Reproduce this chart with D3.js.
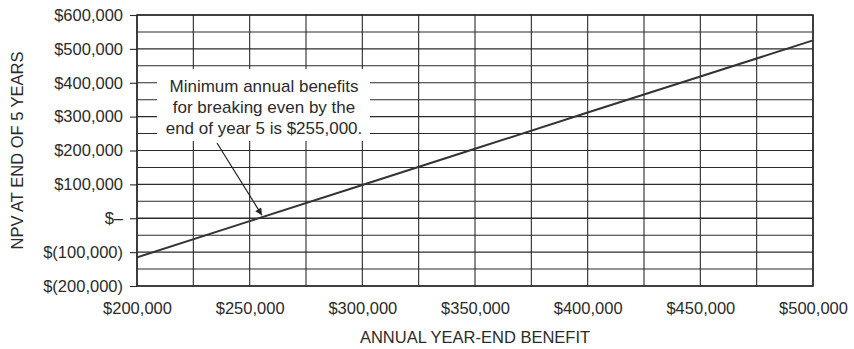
<!DOCTYPE html>
<html>
<head>
<meta charset="utf-8">
<script src="https://cdn.jsdelivr.net/npm/d3@7"></script>
<style>
  body { margin: 0; background: #fff; }
  svg text { font-family: "Liberation Sans", Arial, Helvetica, sans-serif; fill: #2b2b2b; }
</style>
</head>
<body>
<svg id="chart"></svg>
<script>
// annual year-end benefit (x) and NPV at end of year 5 (y)
const benefits = [200000, 250000, 300000, 350000, 400000, 450000, 500000];
const npvValues = [-115500, -8500, 98000, 205000, 312000, 418500, 525000];

const xTicks = [200000, 250000, 300000, 350000, 400000, 450000, 500000];
const yTicks = [-200000, -100000, 0, 100000, 200000, 300000, 400000, 500000, 600000];
const noteLines = ["Minimum annual benefits", "for breaking even by the", "end of year 5 is $255,000."];
const breakEven = 255000;

const width = 854, height = 349;
const margin = {top: 15, right: 41, bottom: 63, left: 137};

const svg = d3.select("#chart")
  .attr("width", width)
  .attr("height", height);

const x = d3.scaleLinear().domain([200000, 500000]).range([margin.left, width - margin.right]);
const y = d3.scaleLinear().domain([-200000, 600000]).range([height - margin.bottom, margin.top]);

const lineColor = "#2b2b2b";

// grid: horizontal every 50k, vertical every 25k
const hGrid = d3.range(-200000, 600001, 50000);
const vGrid = d3.range(200000, 500001, 25000);

svg.append("g")
  .selectAll("line")
  .data(hGrid)
  .join("line")
    .attr("x1", x.range()[0])
    .attr("x2", x.range()[1])
    .attr("y1", d => y(d))
    .attr("y2", d => y(d))
    .attr("stroke", lineColor)
    .attr("stroke-width", d => d === 0 ? 1.6 : 1.1);

svg.append("g")
  .selectAll("line")
  .data(vGrid)
  .join("line")
    .attr("x1", d => x(d))
    .attr("x2", d => x(d))
    .attr("y1", y.range()[0])
    .attr("y2", y.range()[1])
    .attr("stroke", lineColor)
    .attr("stroke-width", 1.1);

// y axis
const fmtY = v => {
  if (v === 0) return "$\u2013";
  const s = d3.format(",")(Math.abs(v));
  return v < 0 ? "$(" + s + ")" : "$" + s;
};

const yAxis = d3.axisLeft(y)
  .tickValues(yTicks)
  .tickSize(7)
  .tickPadding(7)
  .tickFormat(fmtY);

const yAxisG = svg.append("g")
  .attr("transform", `translate(${margin.left},0)`)
  .call(yAxis);
yAxisG.select(".domain").remove();
yAxisG.selectAll(".tick line").attr("stroke", lineColor).attr("stroke-width", 1.1);
yAxisG.selectAll(".tick text")
  .style("font-size", "16.5px")
  .attr("font-family", null);

// x axis (labels only)
const xAxis = d3.axisBottom(x)
  .tickValues(xTicks)
  .tickSize(0)
  .tickPadding(16)
  .tickFormat(d => "$" + d3.format(",")(d));

const xAxisG = svg.append("g")
  .attr("transform", `translate(0,${y.range()[0]})`)
  .call(xAxis);
xAxisG.select(".domain").remove();
xAxisG.selectAll(".tick text")
  .style("font-size", "16.5px")
  .attr("font-family", null);

// plot border
svg.append("rect")
  .attr("x", x.range()[0])
  .attr("y", y.range()[1])
  .attr("width", x.range()[1] - x.range()[0])
  .attr("height", y.range()[0] - y.range()[1])
  .attr("fill", "none")
  .attr("stroke", lineColor)
  .attr("stroke-width", 1.6);

// NPV line
const line = d3.line()
  .x((d, i) => x(benefits[i]))
  .y(d => y(d));

svg.append("path")
  .datum(npvValues)
  .attr("d", line)
  .attr("fill", "none")
  .attr("stroke", "#333")
  .attr("stroke-width", 2);

// annotation box
const boxX = 157, boxY = 69, boxW = 213, boxH = 72;
svg.append("rect")
  .attr("x", boxX)
  .attr("y", boxY)
  .attr("width", boxW)
  .attr("height", boxH)
  .attr("fill", "#fff");

svg.append("text")
  .attr("text-anchor", "middle")
  .style("font-size", "17px")
  .selectAll("tspan")
  .data(noteLines)
  .join("tspan")
    .attr("x", boxX + boxW / 2 + 0.5)
    .attr("y", (d, i) => 92 + i * 21)
    .text(d => d);

// arrow pointing to break-even
svg.append("defs").append("marker")
  .attr("id", "arrow")
  .attr("viewBox", "0 0 10 10")
  .attr("refX", 10)
  .attr("refY", 5)
  .attr("markerWidth", 11)
  .attr("markerHeight", 7)
  .attr("markerUnits", "userSpaceOnUse")
  .attr("orient", "auto")
  .append("path")
    .attr("d", "M0,0L10,5L0,10z")
    .attr("fill", "#222");

svg.append("line")
  .attr("x1", 217)
  .attr("y1", 143)
  .attr("x2", x(breakEven) + 1)
  .attr("y2", y(0) - 3)
  .attr("stroke", "#222")
  .attr("stroke-width", 1.2)
  .attr("marker-end", "url(#arrow)");

// axis titles
svg.append("text")
  .attr("x", (x.range()[0] + x.range()[1]) / 2)
  .attr("y", 343)
  .attr("text-anchor", "middle")
  .style("font-size", "16.5px")
  .text("ANNUAL YEAR-END BENEFIT");

svg.append("text")
  .attr("transform", `translate(23,${(y.range()[0] + y.range()[1]) / 2}) rotate(-90)`)
  .attr("text-anchor", "middle")
  .style("font-size", "16.5px")
  .text("NPV AT END OF 5 YEARS");
</script>
</body>
</html>
